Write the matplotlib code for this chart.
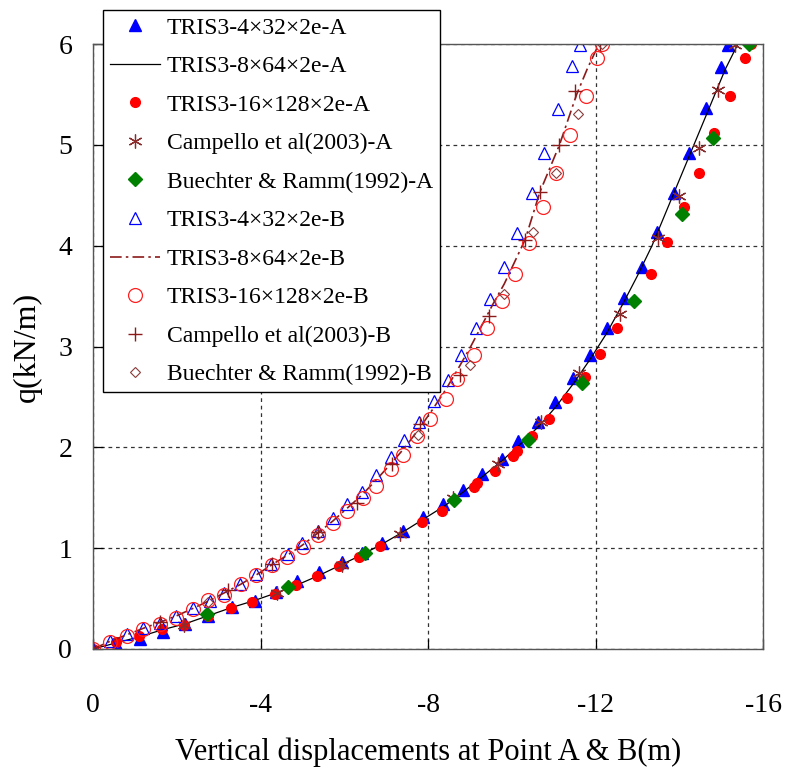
import matplotlib
matplotlib.use("Agg")
import matplotlib.pyplot as plt

# ---------------- data (displacement in m, load q in kN/m) ----------------
tri_A_x = [0, -0.57, -1.12, -1.67, -2.20, -2.75, -3.32, -3.87, -4.37, -4.87, -5.40, -5.95, -6.42, -6.90,
           -7.40, -7.88, -8.36, -8.84, -9.29, -9.77, -10.15, -10.63, -11.03, -11.46, -11.87, -12.27,
           -12.68, -13.11, -13.47, -13.87, -14.23, -14.64, -15.00, -15.16]
tri_A_y = [0, 0.03, 0.10, 0.17, 0.25, 0.33, 0.42, 0.48, 0.57, 0.67, 0.76, 0.86, 0.95, 1.05,
           1.17, 1.31, 1.44, 1.58, 1.74, 1.88, 2.06, 2.25, 2.45, 2.69, 2.92, 3.18,
           3.48, 3.79, 4.14, 4.52, 4.92, 5.37, 5.77, 5.99]

line_A_x = [0, -0.55, -1.1, -1.65, -2.2, -2.75, -3.3, -3.85, -4.4, -4.9, -5.4, -5.9, -6.4, -6.9, -7.4,
            -7.9, -8.4, -8.85, -9.3, -9.75, -10.2, -10.65, -11.05, -11.45, -11.85, -12.25, -12.65,
            -13.0, -13.35, -13.7, -14.05, -14.4, -14.75, -15.1, -15.4]
line_A_y = [0, 0.06, 0.12, 0.19, 0.25, 0.33, 0.41, 0.48, 0.56, 0.64, 0.73, 0.83, 0.93, 1.04, 1.16,
            1.29, 1.42, 1.56, 1.71, 1.86, 2.03, 2.21, 2.40, 2.62, 2.86, 3.12, 3.42,
            3.70, 4.00, 4.35, 4.70, 5.05, 5.40, 5.75, 6.00]

cir_A_x = [0, -0.55, -1.10, -1.65, -2.17, -2.74, -3.30, -3.80, -4.35, -4.85, -5.35, -5.87, -6.35, -6.85,
           -7.86, -8.33, -9.10, -9.17, -9.60, -10.03, -10.13, -10.48, -10.89, -11.32, -11.75, -12.11,
           -12.51, -13.33, -13.71, -14.11, -14.47, -14.83, -15.21, -15.57, -15.72]
cir_A_y = [0, 0.07, 0.13, 0.20, 0.24, 0.33, 0.41, 0.47, 0.55, 0.63, 0.72, 0.82, 0.91, 1.02,
           1.26, 1.37, 1.61, 1.65, 1.77, 1.91, 1.96, 2.11, 2.28, 2.49, 2.70, 2.93,
           3.18, 3.72, 4.04, 4.38, 4.72, 5.12, 5.48, 5.86, 6.00]

camp_A_x = [0, -2.17, -4.39, -5.95, -7.33, -8.60, -9.67, -10.70, -11.61, -12.59, -13.49, -13.99, -14.47, -14.93, -15.33]
camp_A_y = [0, 0.24, 0.56, 0.83, 1.14, 1.50, 1.83, 2.25, 2.74, 3.32, 4.08, 4.49, 4.97, 5.54, 5.99]

buec_A_x = [-2.72, -4.66, -6.50, -8.63, -10.39, -11.68, -12.92, -14.07, -14.81, -15.67]
buec_A_y = [0.35, 0.61, 0.95, 1.48, 2.07, 2.64, 3.45, 4.31, 5.07, 6.00]

tri_B_x = [0, -0.40, -0.80, -1.19, -1.59, -1.99, -2.39, -2.79, -3.14, -3.50, -3.90, -4.26, -4.65, -5.00,
           -5.37, -5.74, -6.07, -6.42, -6.77, -7.11, -7.43, -7.79, -8.14, -8.47, -8.78, -9.15,
           -9.48, -9.82, -10.13, -10.48, -10.77, -11.11, -11.45, -11.63]
tri_B_y = [0, 0.08, 0.15, 0.21, 0.26, 0.33, 0.41, 0.48, 0.56, 0.64, 0.74, 0.84, 0.94, 1.05,
           1.17, 1.30, 1.44, 1.56, 1.73, 1.90, 2.07, 2.25, 2.46, 2.67, 2.92, 3.18,
           3.47, 3.79, 4.13, 4.52, 4.92, 5.36, 5.78, 5.99]

line_B_x = [0, -0.4, -0.8, -1.2, -1.6, -2.0, -2.4, -2.78, -3.15, -3.52, -3.9, -4.27, -4.64, -5.0, -5.37,
            -5.73, -6.08, -6.43, -6.77, -7.12, -7.45, -7.78, -8.1, -8.42, -8.72, -9.02, -9.3, -9.55,
            -9.82, -10.32, -10.67, -11.14, -11.55, -11.8, -12.08]
line_B_y = [0, 0.075, 0.14, 0.205, 0.265, 0.33, 0.405, 0.48, 0.56, 0.64, 0.735, 0.835, 0.93, 1.03, 1.15,
            1.27, 1.40, 1.53, 1.68, 1.84, 2.00, 2.18, 2.37, 2.57, 2.78, 3.0, 3.22, 3.42,
            3.62, 4.06, 4.53, 5.0, 5.5, 5.75, 6.0]

cir_B_x = [0, -0.40, -0.80, -1.19, -1.59, -1.99, -2.39, -2.75, -3.14, -3.54, -3.90, -4.28, -4.64, -5.01,
           -5.37, -5.73, -6.07, -6.44, -6.76, -7.12, -7.40, -7.73, -8.05, -8.43, -8.70, -9.10,
           -9.42, -9.76, -10.08, -10.42, -10.75, -11.06, -11.39, -11.77, -12.04, -12.15]
cir_B_y = [0, 0.07, 0.13, 0.20, 0.25, 0.31, 0.40, 0.49, 0.54, 0.64, 0.73, 0.83, 0.91, 1.01,
           1.13, 1.25, 1.37, 1.50, 1.62, 1.79, 1.92, 2.11, 2.28, 2.48, 2.68, 2.92,
           3.18, 3.45, 3.72, 4.03, 4.38, 4.72, 5.10, 5.48, 5.86, 6.00]

camp_B_x = [0, -1.60, -3.22, -4.28, -5.37, -6.30, -7.13, -7.81, -8.76, -9.46, -10.32, -10.67, -11.14, -11.51, -12.10]
camp_B_y = [0, 0.27, 0.59, 0.84, 1.16, 1.45, 1.83, 2.23, 2.72, 3.30, 4.06, 4.53, 5.00, 5.53, 6.00]

buec_B_x = [-2.75, -5.38, -7.77, -9.00, -9.82, -10.50, -11.06, -11.59, -12.15]
buec_B_y = [0.47, 1.14, 2.12, 2.82, 3.52, 4.14, 4.72, 5.31, 6.00]

labels = ["TRIS3-4\u00d732\u00d72e-A", "TRIS3-8\u00d764\u00d72e-A", "TRIS3-16\u00d7128\u00d72e-A",
          "Campello et al(2003)-A", "Buechter & Ramm(1992)-A",
          "TRIS3-4\u00d732\u00d72e-B", "TRIS3-8\u00d764\u00d72e-B", "TRIS3-16\u00d7128\u00d72e-B",
          "Campello et al(2003)-B", "Buechter & Ramm(1992)-B"]

x_ticks = [0, -4, -8, -12, -16]
y_ticks = [0, 1, 2, 3, 4, 5, 6]

# ---------------- figure ----------------
plt.rcParams['font.family'] = ['Liberation Serif', 'DejaVu Serif']
fig = plt.figure(figsize=(7.87, 7.79), dpi=100)
ax = fig.add_axes([93/787, 1-649/779, (763-93)/787, (649-44)/779])

darkred = '#8B1A1A'
h = []
h += ax.plot(tri_A_x, tri_A_y, linestyle='none', marker='^', ms=8.5, color='#0000FF', mec='#0000FF')
h += ax.plot(line_A_x, line_A_y, linestyle='-', lw=0.9, color='black')
h += ax.plot(cir_A_x, cir_A_y, linestyle='none', marker='o', ms=7, color='#FF0000', mec='#FF0000')
h += ax.plot(camp_A_x, camp_A_y, linestyle='none', marker=(6, 2, 0), ms=10, color='#8B2B2B', mew=0.9)
h += ax.plot(buec_A_x, buec_A_y, linestyle='none', marker='D', ms=7.5, color='#008000', mec='#008000')
h += ax.plot(tri_B_x, tri_B_y, linestyle='none', marker='^', ms=9, mfc='none', mec='#0000FF', mew=0.9)
h += ax.plot(line_B_x, line_B_y, linestyle=(0, (7, 2.5, 1.5, 2.5)), lw=1.2, color=darkred)
h += ax.plot(cir_B_x, cir_B_y, linestyle='none', marker='o', ms=10, mfc='none', mec='#FF2020', mew=0.9)
h += ax.plot(camp_B_x, camp_B_y, linestyle='none', marker='+', ms=10, color=darkred, mew=1.0)
h += ax.plot(buec_B_x, buec_B_y, linestyle='none', marker='D', ms=5.5, mfc='none', mec='#8B3A3A', mew=0.8)

ax.set_xlim(0, -16)
ax.set_ylim(0, 6)
ax.set_xticks(x_ticks)
ax.set_xticklabels([str(v) for v in x_ticks])
ax.set_yticks(y_ticks)
ax.grid(True, linestyle=(0, (3, 3)), color='#333333', lw=0.9)
ax.tick_params(direction='in', length=7, width=0.9, labelsize=20, colors='black')
ax.tick_params(axis='x', pad=32)
ax.tick_params(axis='y', pad=15)
for s in ax.spines.values():
    s.set_color('#555555')
    s.set_linewidth(1.0)

ax.set_xlabel('Vertical displacements at Point A & B(m)', fontsize=22, labelpad=14)
ax.set_ylabel('q(kN/m)', fontsize=23, labelpad=12)

leg = fig.legend(h, labels, loc='upper left', bbox_to_anchor=(103/787, 1-10/779),
                 fontsize=17, frameon=True, fancybox=False, edgecolor='black',
                 framealpha=1, labelspacing=0.72, handlelength=2.1, handletextpad=0.3,
                 borderpad=0.3, borderaxespad=0)
leg.get_frame().set_linewidth(1.0)

fig.savefig('out.png', dpi=100)
